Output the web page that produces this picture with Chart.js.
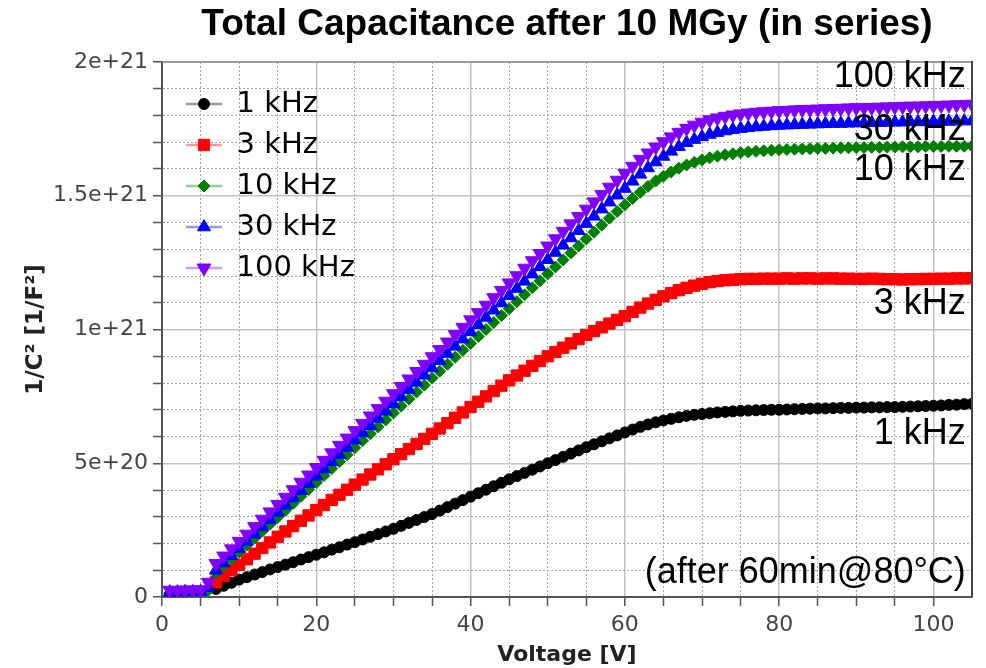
<!DOCTYPE html>
<html><head><meta charset="utf-8">
<script src="https://cdn.jsdelivr.net/npm/chart.js@4/dist/chart.umd.min.js"></script>
<style>html,body{margin:0;padding:0;background:#fff;}canvas{display:block;}</style>
</head><body>
<canvas id="c" width="986" height="668"></canvas>
<script>
// ---------------- data (1/C^2 in units of 1e20 F^-2) ----------------
const VOLTAGE = [1,2,3,4,5,6,7,8,9,10,11,12,13,14,15,16,17,18,19,20,21,22,23,24,25,26,27,28,29,30,
31,32,33,34,35,36,37,38,39,40,41,42,43,44,45,46,47,48,49,50,51,52,53,54,55,56,57,58,59,60,
61,62,63,64,65,66,67,68,69,70,71,72,73,74,75,76,77,78,79,80,81,82,83,84,85,86,87,88,89,90,
91,92,93,94,95,96,97,98,99,100,101,102,103,104,105];
const UNIT = 1e20;
const SERIES_NAMES = ['1 kHz','3 kHz','10 kHz','30 kHz','100 kHz'];
const CAP_1KHZ = [null,null,null,null,null,null,
0.30,0.42,0.53,0.65,0.74,0.84,0.93,1.03,1.12,1.21,
1.30,1.40,1.49,1.58,1.67,1.77,1.86,1.96,2.05,2.15,
2.25,2.35,2.45,2.55,2.66,2.77,2.88,2.99,3.10,3.23,
3.36,3.49,3.62,3.75,3.88,4.01,4.14,4.27,4.40,4.52,
4.64,4.76,4.88,5.00,5.12,5.24,5.36,5.48,5.60,5.71,
5.82,5.93,6.04,6.15,6.26,6.36,6.45,6.53,6.60,6.66,
6.72,6.77,6.81,6.84,6.87,6.90,6.92,6.94,6.96,6.97,
6.98,6.99,7.00,7.00,7.01,7.02,7.03,7.04,7.05,7.05,
7.06,7.07,7.07,7.08,7.08,7.09,7.09,7.10,7.10,7.11,
7.12,7.13,7.14,7.15,7.16,7.18,7.19,7.21,7.22];
const CAP_3KHZ = [null,null,null,null,null,null,
0.55,0.80,1.00,1.20,1.41,1.62,1.83,2.04,2.25,2.45,
2.65,2.85,3.05,3.25,3.44,3.63,3.82,4.01,4.20,4.39,
4.58,4.77,4.96,5.15,5.34,5.53,5.72,5.91,6.10,6.30,
6.50,6.70,6.90,7.10,7.30,7.50,7.70,7.90,8.10,8.28,
8.46,8.64,8.82,9.00,9.16,9.32,9.48,9.64,9.80,9.94,
10.08,10.22,10.36,10.50,10.66,10.82,10.97,11.11,11.24,11.36,
11.47,11.56,11.64,11.71,11.77,11.81,11.84,11.86,11.88,11.89,
11.89,11.90,11.90,11.90,11.91,11.90,11.91,11.91,11.90,11.91,
11.91,11.90,11.90,11.89,11.89,11.90,11.89,11.88,11.88,11.87,
11.88,11.88,11.89,11.89,11.90,11.90,11.91,11.91,11.92];
const CAP_10KHZ = [
0.15,0.15,0.16,0.16,0.17,0.25,0.90,1.16,1.42,1.68,
1.94,2.20,2.46,2.72,2.98,3.24,3.50,3.76,4.02,4.28,
4.54,4.80,5.06,5.32,5.58,5.84,6.10,6.36,6.62,6.88,
7.14,7.40,7.66,7.92,8.18,8.44,8.70,8.96,9.22,9.48,
9.74,10.00,10.26,10.52,10.78,11.04,11.30,11.56,11.82,12.08,
12.34,12.60,12.86,13.12,13.38,13.64,13.90,14.16,14.41,14.66,
14.90,15.13,15.35,15.55,15.73,15.89,16.03,16.15,16.25,16.34,
16.42,16.48,16.53,16.57,16.61,16.64,16.66,16.68,16.70,16.72,
16.73,16.74,16.75,16.76,16.77,16.77,16.78,16.79,16.79,16.80,
16.80,16.81,16.81,16.82,16.82,16.83,16.83,16.83,16.84,16.84,
16.84,16.85,16.85,16.85,16.86];
const CAP_30KHZ = [
0.18,0.18,0.19,0.19,0.20,0.35,1.00,1.27,1.54,1.81,
2.08,2.35,2.62,2.89,3.16,3.43,3.70,3.97,4.24,4.51,
4.78,5.05,5.32,5.59,5.86,6.13,6.40,6.67,6.94,7.21,
7.48,7.75,8.02,8.29,8.56,8.83,9.10,9.37,9.64,9.91,
10.18,10.45,10.72,10.99,11.26,11.53,11.80,12.07,12.34,12.61,
12.88,13.15,13.42,13.69,13.96,14.23,14.50,14.76,15.02,15.27,
15.54,15.80,16.04,16.26,16.47,16.66,16.83,16.98,17.10,17.20,
17.29,17.36,17.42,17.47,17.51,17.54,17.57,17.59,17.61,17.63,
17.64,17.65,17.66,17.67,17.68,17.69,17.70,17.70,17.71,17.72,
17.72,17.73,17.73,17.74,17.75,17.75,17.76,17.76,17.77,17.77,
17.78,17.78,17.79,17.79,17.80];
const CAP_100KHZ = [
0.25,0.25,0.26,0.26,0.27,0.55,1.25,1.53,1.80,2.08,
2.35,2.63,2.91,3.18,3.46,3.73,4.01,4.29,4.56,4.84,
5.11,5.39,5.67,5.94,6.22,6.49,6.77,7.05,7.32,7.60,
7.87,8.15,8.43,8.70,8.98,9.25,9.53,9.81,10.08,10.36,
10.63,10.91,11.19,11.46,11.74,12.01,12.29,12.57,12.84,13.12,
13.39,13.67,13.95,14.22,14.50,14.77,15.05,15.32,15.58,15.84,
16.10,16.36,16.60,16.82,17.02,17.20,17.37,17.52,17.64,17.75,
17.84,17.91,17.97,18.02,18.06,18.09,18.12,18.14,18.16,18.18,
18.19,18.21,18.22,18.23,18.24,18.25,18.26,18.27,18.28,18.29,
18.30,18.30,18.31,18.32,18.33,18.34,18.35,18.35,18.36,18.37,
18.38,18.39,18.40,18.41,18.42];

// right-hand annotation texts and their anchors (x in V, y in 1e20 units)
const NOTE_TEXTS = ['100 kHz','30 kHz','10 kHz','3 kHz','1 kHz','(after 60min@80\u00B0C)'];
const NOTE_Y = [19.44,17.46,15.96,10.95,6.09,0.90];
const NOTE_X = 104.2;

// ---------------- styling ----------------
const SERIES = [CAP_1KHZ, CAP_3KHZ, CAP_10KHZ, CAP_30KHZ, CAP_100KHZ];
const STYLES = [
  {color:'#000000', line:'rgba(0,0,0,0.4)',     pointStyle:'circle',   radius:5.5, rotation:0,   order:5},
  {color:'#ff0000', line:'rgba(255,0,0,0.4)',   pointStyle:'rect',     radius:8,   rotation:0,   order:4},
  {color:'#008000', line:'rgba(0,128,0,0.4)',   pointStyle:'rectRot',  radius:6,   rotation:0,   order:3},
  {color:'#0000ff', line:'rgba(0,0,255,0.4)',   pointStyle:'triangle', radius:7.5, rotation:0,   order:2},
  {color:'#8000ff', line:'rgba(128,0,255,0.4)', pointStyle:'triangle', radius:8,   rotation:180, order:1}
];

Chart.defaults.font.family = 'DejaVu Sans';

function makeIcon(st){
  const c = document.createElement('canvas');
  c.width = 48; c.height = 22;
  const g = c.getContext('2d');
  g.strokeStyle = st.line; g.lineWidth = 2.5;
  g.beginPath(); g.moveTo(12,11); g.lineTo(48,11); g.stroke();
  g.fillStyle = st.color; g.strokeStyle = st.color; g.lineWidth = 1;
  Chart.helpers.drawPoint(g, {pointStyle: st.pointStyle, radius: st.radius, rotation: st.rotation, borderWidth: 1}, 30, 11);
  return c;
}
const ICONS = STYLES.map(makeIcon);

const datasets = SERIES.map((vals, i) => ({
  label: SERIES_NAMES[i],
  data: VOLTAGE.map((v, j) => vals[j] == null ? null : {x: v, y: vals[j] * UNIT}).filter(p => p),
  borderColor: STYLES[i].line,
  backgroundColor: STYLES[i].color,
  borderWidth: 1.5,
  pointStyle: STYLES[i].pointStyle,
  pointRadius: STYLES[i].radius,
  pointRotation: STYLES[i].rotation,
  pointBackgroundColor: STYLES[i].color,
  pointBorderColor: STYLES[i].color,
  pointBorderWidth: 1,
  order: STYLES[i].order,
  tension: 0
}));

const isMajorX = v => Math.abs(v / 20 - Math.round(v / 20)) < 1e-9;
const isMajorY = v => Math.abs(v / 5e20 - Math.round(v / 5e20)) < 1e-9;

const framePlugin = {
  id: 'frame',
  afterDatasetsDraw(chart) {
    const {ctx, chartArea: a} = chart;
    ctx.save();
    ctx.strokeStyle = '#8a8a8a'; ctx.lineWidth = 1.5;
    ctx.beginPath(); ctx.moveTo(a.left, a.top); ctx.lineTo(a.right, a.top); ctx.stroke();
    ctx.strokeStyle = '#444'; ctx.lineWidth = 2;
    ctx.beginPath(); ctx.moveTo(a.right, a.top - 1); ctx.lineTo(a.right, a.bottom); ctx.stroke();
    const xs = chart.scales.x, ys = chart.scales.y;
    ctx.fillStyle = '#000';
    ctx.font = '36px "Liberation Sans"';
    ctx.textAlign = 'right'; ctx.textBaseline = 'middle';
    NOTE_TEXTS.forEach((t, i) => {
      ctx.fillText(t, xs.getPixelForValue(NOTE_X), ys.getPixelForValue(NOTE_Y[i] * UNIT));
    });
    ctx.restore();
  }
};

new Chart(document.getElementById('c'), {
  type: 'line',
  data: {datasets},
  plugins: [framePlugin],
  options: {
    responsive: false,
    devicePixelRatio: 1,
    animation: false,
    events: [],
    layout: {padding: {left: 0, right: 14, top: 0, bottom: 0}},
    plugins: {
      title: {
        display: true,
        text: 'Total Capacitance after 10 MGy (in series)',
        color: '#000',
        fullSize: false,
        font: {family: 'Liberation Sans', size: 37, weight: 'bold', lineHeight: 1.2},
        padding: {top: 3, bottom: 14.6}
      },
      legend: {
        position: 'chartArea',
        align: 'start',
        title: {display: true, text: ' ', font: {size: 10, lineHeight: 1}, padding: {top: 67.5, bottom: 0}},
        labels: {
          usePointStyle: true,
          pointStyleWidth: 48,
          padding: 12,
          color: '#000',
          font: {size: 29},
          sort: (a, b) => a.datasetIndex - b.datasetIndex,
          generateLabels(chart) {
            const items = Chart.defaults.plugins.legend.labels.generateLabels(chart);
            items.forEach(it => { it.pointStyle = ICONS[it.datasetIndex]; it.rotation = 0; });
            return items;
          }
        }
      },
      tooltip: {enabled: false}
    },
    scales: {
      x: {
        type: 'linear', min: 0, max: 105,
        ticks: {stepSize: 5, autoSkip: false, maxRotation: 0, padding: 6, color: '#444', font: {size: 22},
          callback: v => isMajorX(v) ? String(v) : ''},
        grid: {
          color: c => (c.tick && c.tick.value >= 105) ? 'rgba(0,0,0,0)' : (c.tick && isMajorX(c.tick.value) ? '#c2c2c2' : '#a6a6a6'),
          lineWidth: c => (c.tick && isMajorX(c.tick.value)) ? 1.5 : 1,
          tickLength: 9, tickWidth: 1.5,
          tickColor: c => (c.tick && c.tick.value >= 105) ? 'rgba(0,0,0,0)' : '#555'
        },
        border: {display: true, color: '#555', width: 2,
          dash: c => (c.tick && !isMajorX(c.tick.value)) ? [2, 2] : []},
        title: {display: true, text: 'Voltage [V]', color: '#222', font: {size: 22, weight: 'bold'}, padding: {top: 0, bottom: 0}},
        afterFit: s => { s.height = 71; }
      },
      y: {
        type: 'linear', min: 0, max: 2e21,
        ticks: {stepSize: 1e20, autoSkip: false, padding: 5, color: '#444', font: {size: 22},
          callback: v => isMajorY(v) ? (v === 0 ? '0' : Number(v).toExponential()) : ''},
        grid: {
          color: c => (c.tick && isMajorY(c.tick.value)) ? '#c2c2c2' : '#a6a6a6',
          lineWidth: c => (c.tick && isMajorY(c.tick.value)) ? 1.5 : 1,
          tickLength: 9, tickWidth: 1.5, tickColor: '#555'
        },
        border: {display: true, color: '#555', width: 2,
          dash: c => (c.tick && !isMajorY(c.tick.value)) ? [2, 2] : []},
        title: {display: true, text: '1/C\u00B2 [1/F\u00B2]', color: '#222', font: {size: 23, weight: 'bold'}, padding: {top: 22, bottom: 0}},
        afterFit: s => { s.width = 162; }
      }
    }
  }
});
</script>
</body></html>
